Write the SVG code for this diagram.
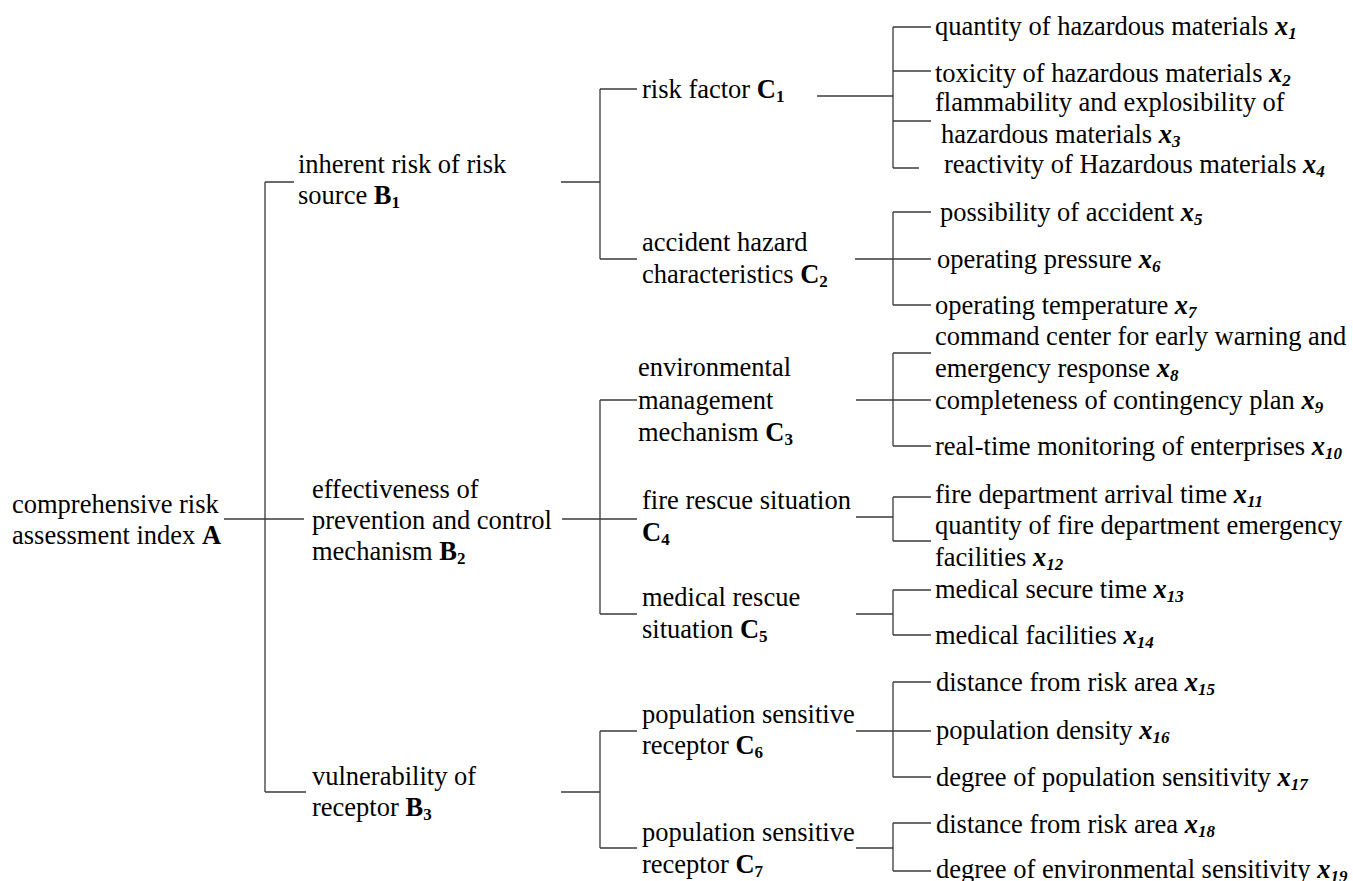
<svg xmlns="http://www.w3.org/2000/svg" width="1353" height="881" viewBox="0 0 1353 881">
<style>
text{font-family:"Liberation Serif","Times New Roman",serif;font-size:26.5px;fill:#000}
.v{font-weight:bold;font-style:italic}
.b{font-weight:bold}
.s{font-size:17px}
#connectors path{stroke:#3a3a3a;stroke-width:1.3;fill:none}
</style>
<rect width="1353" height="881" fill="#fff"/>
<g id="connectors">
<path d="M224,519H304M265,182V792M265,182H294M265,792H306"/>
<path d="M561,182H600M600,89V259M600,89H637M600,259H637"/>
<path d="M562,519H637M600,400V614M600,400H637M600,614H637"/>
<path d="M561,792H600M600,731V848M600,731H637M600,848H637"/>
<path d="M817,96H893M893,27V168M893,27H931M893,71H931M893,121H931M893,168H919"/>
<path d="M855,259H931M893,212V305M893,212H931M893,305H931"/>
<path d="M856,400H931M893,353V446M893,353H931M893,446H931"/>
<path d="M856,517H893M893,497V541M893,497H931M893,541H931"/>
<path d="M856,614H893M893,590V635M893,590H931M893,635H931"/>
<path d="M856,731H931M893,682V777M893,682H931M893,777H931"/>
<path d="M856,848H893M893,823V871M893,823H931M893,871H931"/>
</g>
<g id="A"><text x="12" y="513">comprehensive risk</text><text x="12" y="544">assessment index <tspan class="b">A</tspan></text></g>
<g id="B1"><text x="298" y="173">inherent risk of risk</text><text x="298" y="204">source <tspan class="b">B</tspan><tspan class="b s" dy="4">1</tspan></text></g>
<g id="B2"><text x="312" y="498">effectiveness of</text><text x="312" y="529">prevention and control</text><text x="312" y="560">mechanism <tspan class="b">B</tspan><tspan class="b s" dy="4">2</tspan></text></g>
<g id="B3"><text x="312" y="785">vulnerability of</text><text x="312" y="816">receptor <tspan class="b">B</tspan><tspan class="b s" dy="4">3</tspan></text></g>
<g id="C1"><text x="642" y="98">risk factor <tspan class="b">C</tspan><tspan class="b s" dy="4">1</tspan></text></g>
<g id="C2"><text x="642" y="251">accident hazard</text><text x="642" y="283">characteristics <tspan class="b">C</tspan><tspan class="b s" dy="4">2</tspan></text></g>
<g id="C3"><text x="638" y="376">environmental</text><text x="638" y="409">management</text><text x="638" y="441">mechanism <tspan class="b">C</tspan><tspan class="b s" dy="4">3</tspan></text></g>
<g id="C4"><text x="642" y="509">fire rescue situation</text><text x="642" y="541"><tspan class="b">C</tspan><tspan class="b s" dy="4">4</tspan></text></g>
<g id="C5"><text x="642" y="606">medical rescue</text><text x="642" y="638">situation <tspan class="b">C</tspan><tspan class="b s" dy="4">5</tspan></text></g>
<g id="C6"><text x="642" y="723">population sensitive</text><text x="642" y="754">receptor <tspan class="b">C</tspan><tspan class="b s" dy="4">6</tspan></text></g>
<g id="C7"><text x="642" y="841">population sensitive</text><text x="642" y="873">receptor <tspan class="b">C</tspan><tspan class="b s" dy="4">7</tspan></text></g>
<g id="x1"><text x="935" y="35">quantity of hazardous materials <tspan class="v">x</tspan><tspan class="v s" dy="4">1</tspan></text></g>
<g id="x2"><text x="935" y="82">toxicity of hazardous materials <tspan class="v">x</tspan><tspan class="v s" dy="4">2</tspan></text></g>
<g id="x3"><text x="935" y="111">flammability and explosibility of</text><text x="941" y="143">hazardous materials <tspan class="v">x</tspan><tspan class="v s" dy="4">3</tspan></text></g>
<g id="x4"><text x="944" y="173">reactivity of Hazardous materials <tspan class="v">x</tspan><tspan class="v s" dy="4">4</tspan></text></g>
<g id="x5"><text x="940" y="221">possibility of accident <tspan class="v">x</tspan><tspan class="v s" dy="4">5</tspan></text></g>
<g id="x6"><text x="937" y="268">operating pressure <tspan class="v">x</tspan><tspan class="v s" dy="4">6</tspan></text></g>
<g id="x7"><text x="935" y="314">operating temperature <tspan class="v">x</tspan><tspan class="v s" dy="4">7</tspan></text></g>
<g id="x8"><text x="935" y="345">command center for early warning and</text><text x="935" y="377">emergency response <tspan class="v">x</tspan><tspan class="v s" dy="4">8</tspan></text></g>
<g id="x9"><text x="935" y="409">completeness of contingency plan <tspan class="v">x</tspan><tspan class="v s" dy="4">9</tspan></text></g>
<g id="x10"><text x="935" y="455">real-time monitoring of enterprises <tspan class="v">x</tspan><tspan class="v s" dy="4">10</tspan></text></g>
<g id="x11"><text x="935" y="503">fire department arrival time <tspan class="v">x</tspan><tspan class="v s" dy="4">11</tspan></text></g>
<g id="x12"><text x="935" y="534">quantity of fire department emergency</text><text x="935" y="566">facilities <tspan class="v">x</tspan><tspan class="v s" dy="4">12</tspan></text></g>
<g id="x13"><text x="935" y="598">medical secure time <tspan class="v">x</tspan><tspan class="v s" dy="4">13</tspan></text></g>
<g id="x14"><text x="935" y="644">medical facilities <tspan class="v">x</tspan><tspan class="v s" dy="4">14</tspan></text></g>
<g id="x15"><text x="936" y="691">distance from risk area <tspan class="v">x</tspan><tspan class="v s" dy="4">15</tspan></text></g>
<g id="x16"><text x="936" y="739">population density <tspan class="v">x</tspan><tspan class="v s" dy="4">16</tspan></text></g>
<g id="x17"><text x="936" y="786">degree of population sensitivity <tspan class="v">x</tspan><tspan class="v s" dy="4">17</tspan></text></g>
<g id="x18"><text x="936" y="833">distance from risk area <tspan class="v">x</tspan><tspan class="v s" dy="4">18</tspan></text></g>
<g id="x19"><text x="936" y="878">degree of environmental sensitivity <tspan class="v">x</tspan><tspan class="v s" dy="4">19</tspan></text></g>
</svg>
